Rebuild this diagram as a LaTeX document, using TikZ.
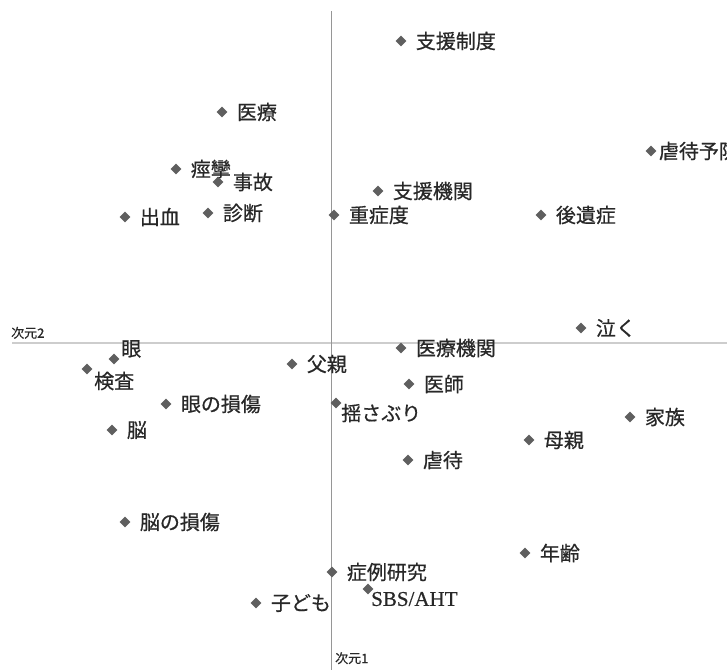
\documentclass[tikz,border=0pt]{standalone}
\usepackage{fontspec}
\setmainfont{Liberation Serif}
\newfontfamily\jpfont[FakeBold=0.6]{Noto Sans CJK JP}
\newfontfamily\latinbold[FakeBold=0.6]{Liberation Serif}
\usetikzlibrary{shapes.geometric, positioning}
\definecolor{dotgray}{RGB}{95, 95, 95}
\definecolor{axisgray}{RGB}{150, 150, 150}
\definecolor{axislight}{RGB}{205, 205, 205}
\definecolor{termtext}{RGB}{40, 40, 40}
\tikzstyle{dot} = [diamond, fill=dotgray, inner sep=0pt, minimum width=11pt, minimum height=11pt]
\tikzstyle{term} = [inner sep=1pt, text=termtext, font=\jpfont\fontsize{20}{22}\selectfont]
\tikzstyle{dimlabel} = [inner sep=0pt, text=termtext, font=\jpfont\fontsize{13}{15}\selectfont]

\begin{document}
\begin{tikzpicture}[x=1pt, y=-1pt, node distance=8pt]
  \useasboundingbox (0,0) rectangle (727,670);
  \clip (0,0) rectangle (727,670);

  % axes
  \coordinate (ytop) at (331,11);
  \coordinate (ybot) at (331,670);
  \coordinate (xleft) at (12,343);
  \coordinate (xright) at (727,343);
  \draw[axislight, line width=2pt] (xleft) -- (xright);
  \draw[axisgray, line width=1pt] (ytop) -- (ybot);
  \node[dimlabel, anchor=south west] (dim2) at (11,339) {次元2};
  \node[dimlabel, anchor=north west] (dim1) at (335,652) {次元1};

  % points, upper half
  \node[dot] (seido) at (401,41) {};
  \node[term, right=of seido] (seidot) {支援制度};
  \node[dot] (iryou) at (222,112) {};
  \node[term, right=of iryou] (iryout) {医療};
  \node[dot] (yobou) at (651,151) {};
  \node[term, right=1pt of yobou] (yobout) {虐待予防};
  \node[dot] (keiren) at (176,169) {};
  \node[term, right=of keiren] (keirent) {痙攣};
  \node[dot] (jiko) at (218,182) {};
  \node[term, right=of jiko] (jikot) {事故};
  \node[dot] (kikan) at (378,191) {};
  \node[term, right=of kikan] (kikant) {支援機関};
  \node[dot] (shukketsu) at (125,217) {};
  \node[term, right=of shukketsu] (shukketsut) {出血};
  \node[dot] (shindan) at (208,213) {};
  \node[term, right=of shindan] (shindant) {診断};
  \node[dot] (juushou) at (334,215) {};
  \node[term, right=of juushou] (juushout) {重症度};
  \node[dot] (kouishou) at (541,215) {};
  \node[term, right=of kouishou] (kouishout) {後遺症};
  \node[dot] (naku) at (581,328) {};
  \node[term, right=of naku] (nakut) {泣く};

  % points, lower half
  \node[dot] (me) at (114,359) {};
  \node[term, anchor=west] (met) at (120,349) {眼};
  \node[dot] (kensa) at (87,369) {};
  \node[term, anchor=west] (kensat) at (93,381) {検査};
  \node[dot] (iryoukikan) at (401,348) {};
  \node[term, right=of iryoukikan] (iryoukikant) {医療機関};
  \node[dot] (chichi) at (292,364) {};
  \node[term, right=of chichi] (chichit) {父親};
  \node[dot] (ishi) at (409,384) {};
  \node[term, right=of ishi] (ishit) {医師};
  \node[dot] (meson) at (166,404) {};
  \node[term, right=of meson] (mesont) {眼の損傷};
  \node[dot] (yusaburi) at (336,403) {};
  \node[term, anchor=west] (yusaburit) at (340,413) {揺さぶり};
  \node[dot] (kazoku) at (630,417) {};
  \node[term, right=of kazoku] (kazokut) {家族};
  \node[dot] (nou) at (112,430) {};
  \node[term, right=of nou] (nout) {脳};
  \node[dot] (haha) at (529,440) {};
  \node[term, right=of haha] (hahat) {母親};
  \node[dot] (gyakutai) at (408,460) {};
  \node[term, right=of gyakutai] (gyakutait) {虐待};
  \node[dot] (nouson) at (125,522) {};
  \node[term, right=of nouson] (nousont) {脳の損傷};
  \node[dot] (nenrei) at (525,553) {};
  \node[term, right=of nenrei] (nenreit) {年齢};
  \node[dot] (shourei) at (332,572) {};
  \node[term, right=of shourei] (shoureit) {症例研究};
  \node[dot] (sbs) at (368,589) {};
  \node[term, anchor=west, font=\latinbold\fontsize{21}{23}\selectfont] (sbst) at (370,599) {SBS/AHT};
  \node[dot] (kodomo) at (256,603) {};
  \node[term, right=of kodomo] (kodomot) {子ども};
\end{tikzpicture}
\end{document}
